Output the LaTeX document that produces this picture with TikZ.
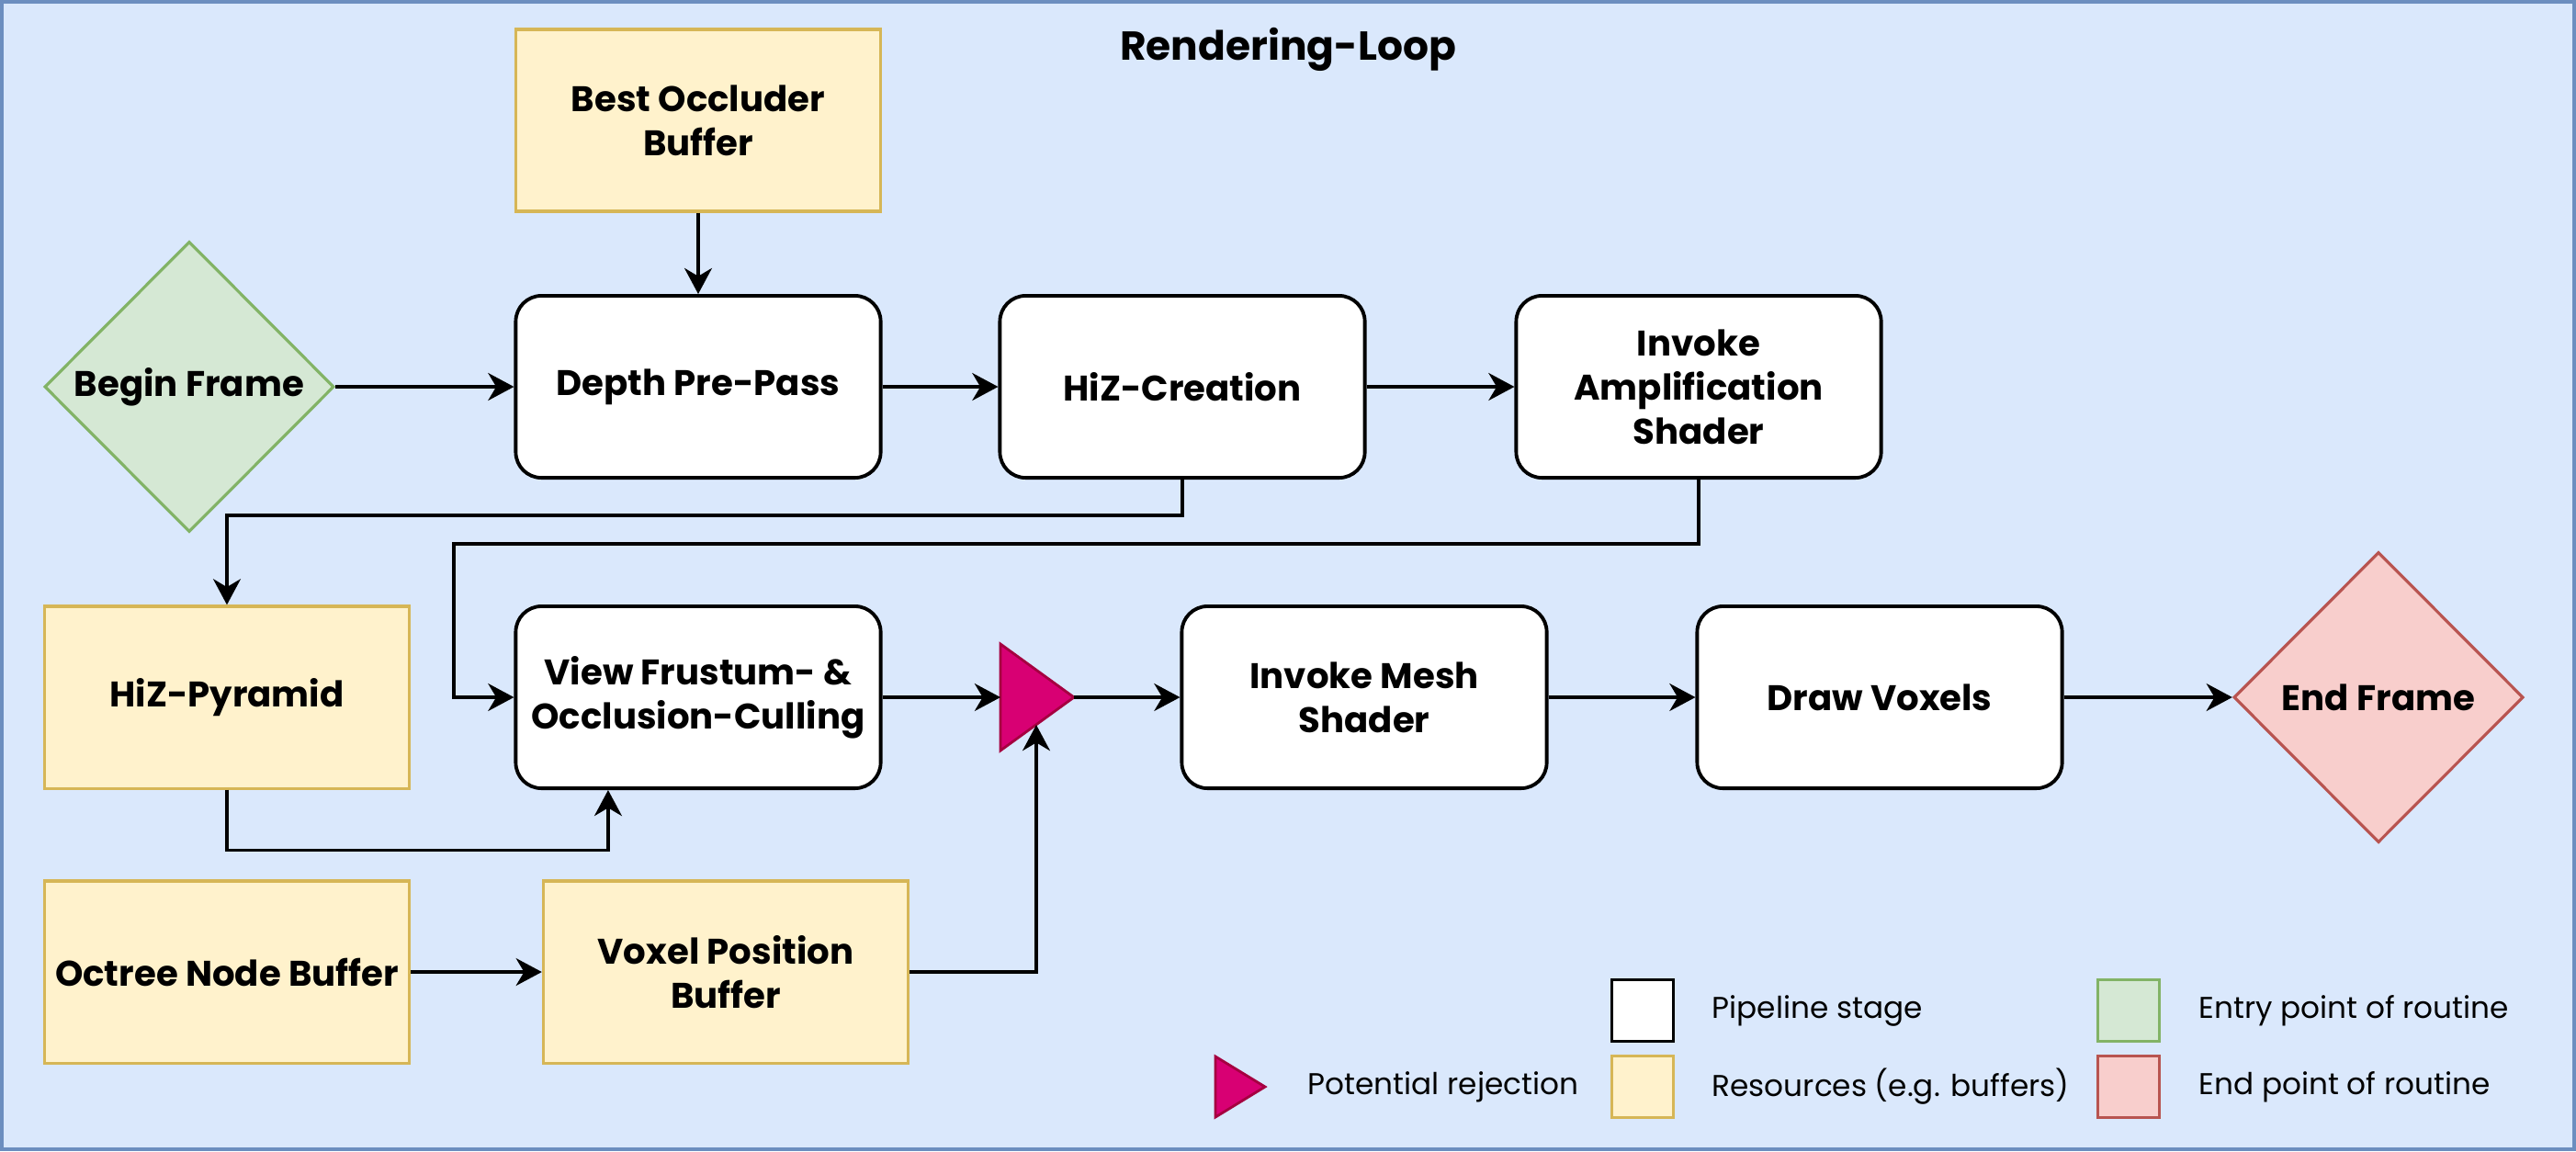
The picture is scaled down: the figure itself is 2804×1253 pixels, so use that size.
\documentclass[tikz,border=0pt]{standalone}
\usepackage{fontspec}
\setmainfont{Poppins}
\usetikzlibrary{arrows.meta}
\usetikzlibrary{shapes.geometric}
\definecolor{bgfill}{HTML}{DAE8FC}
\definecolor{bgline}{HTML}{6C8EBF}
\definecolor{resfill}{HTML}{FFF2CC}
\definecolor{resline}{HTML}{D6B656}
\definecolor{entryfill}{HTML}{D5E8D4}
\definecolor{entryline}{HTML}{82B366}
\definecolor{endfill}{HTML}{F8CECC}
\definecolor{endline}{HTML}{B85450}
\definecolor{rejfill}{HTML}{D80073}
\definecolor{rejline}{HTML}{A50040}

\begin{document}
\begin{tikzpicture}[x=0.01cm, y=-0.01cm,
    every node/.append style={font=\bfseries\fontsize{11}{13.7}\selectfont, align=center},
    stage/.style={draw, line width=1.1pt, fill=white, rounded corners=0.28cm, minimum width=3.97cm, minimum height=1.98cm},
    resource/.style={draw=resline, line width=0.9pt, fill=resfill, minimum width=3.97cm, minimum height=1.98cm},
    routine/.style={diamond, aspect=1, inner sep=0pt, line width=0.9pt, minimum width=3.15cm, minimum height=3.16cm},
    keybox/.style={minimum width=0.67cm, minimum height=0.67cm, inner sep=0pt},
    keytext/.style={anchor=west, inner sep=0pt, font=\fontsize{9.3}{11.5}\selectfont},
    flow/.style={-{Stealth[length=8pt, width=8.5pt, inset=2.5pt]}, line width=1pt}]
    % background
    \useasboundingbox (0,0) rectangle (2804,1253);
    \draw[bgline, fill=bgfill, line width=1.2pt] (2,2) rectangle (2802,1251);
    \node (title) at (1402,54) [font=\bfseries\fontsize{12.5}{15}\selectfont] {Rendering-Loop};
    % nodes
    \node[resource] (occl) at (760,131) {Best Occluder\\Buffer};
    \node[routine, draw=entryline, fill=entryfill] (begin) at (206,421) {Begin Frame};
    \node[stage] (depth) at (760,421) {Depth Pre-Pass};
    \node[stage] (hizc) at (1287,421) {HiZ-Creation};
    \node[stage] (ampl) at (1849,421) {Invoke\\Amplification\\Shader};
    \node[resource] (pyr) at (247,759) {HiZ-Pyramid};
    \node[stage] (cull) at (760,759) {View Frustum- \&\\Occlusion-Culling};
    \node[stage] (mesh) at (1485,759) {Invoke Mesh\\Shader};
    \node[stage] (voxdraw) at (2046,759) {Draw Voxels};
    \node[routine, draw=endline, fill=endfill] (endf) at (2589,759) {End Frame};
    \node[resource] (octree) at (247,1058) {Octree Node Buffer};
    \node[resource] (voxpos) at (790,1058) {Voxel Position\\Buffer};
    % rejection triangle
    \draw[rejline, fill=rejfill, line width=0.8pt] (1089,701) -- (1169,759) coordinate (rejT) -- (1089,817) -- cycle;
    \coordinate (rejW) at (1089,759);
    \coordinate (rejB) at (1128,789);
    % connectors
    \draw[flow] (occl) -- (depth);
    \draw[flow] (begin) -- (depth);
    \draw[flow] (depth) -- (hizc);
    \draw[flow] (hizc) -- (ampl);
    \draw[flow] (hizc.south) -- ++(0,39) -| (pyr.north);
    \draw[flow] (ampl.south) |- (494,592) |- (cull.west);
    \draw[flow] (pyr.south) -- ++(0,66) -| ([xshift=-0.98cm]cull.south);
    \draw[flow] (cull) -- (rejW);
    \draw[flow] (rejT) -- (mesh);
    \draw[flow] (octree) -- (voxpos);
    \draw[flow] (voxpos) -| (rejB);
    \draw[flow] (mesh) -- (voxdraw);
    \draw[flow] (voxdraw) -- (endf);
    % legend
    \draw[rejline, fill=rejfill, line width=0.8pt] (1323,1150) -- (1377,1183) -- (1323,1216) -- cycle;
    \node[keytext] (keyrej) at (1423,1183) {Potential rejection};
    \node[keybox, draw, line width=1.1pt, fill=white] (keystage) at (1788,1100) {};
    \node[keytext] at (1863,1100) {Pipeline stage};
    \node[keybox, draw=resline, line width=0.9pt, fill=resfill] (keyres) at (1788,1183) {};
    \node[keytext] at (1863,1183) {Resources (e.g. buffers)};
    \node[keybox, draw=entryline, line width=0.9pt, fill=entryfill] (keyentry) at (2317,1100) {};
    \node[keytext] at (2393,1100) {Entry point of routine};
    \node[keybox, draw=endline, line width=0.9pt, fill=endfill] (keyend) at (2317,1183) {};
    \node[keytext] at (2393,1183) {End point of routine};
\end{tikzpicture}
\end{document}
